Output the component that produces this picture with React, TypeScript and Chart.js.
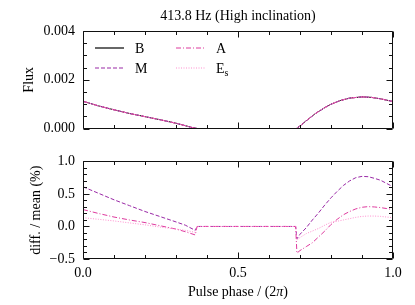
import React, { useEffect, useRef } from "react";
import { Chart, registerables } from "chart.js";

Chart.register(...registerables);

// ---------- data ----------
const TITLE = "413.8 Hz (High inclination)";

// Top panel: flux vs pulse phase (all four models coincide at this scale)
const FLUX_PHASE = [0, 0.05, 0.1, 0.15, 0.2, 0.25, 0.3, 0.33, 0.35, 0.37, 0.688, 0.7, 0.72, 0.75, 0.78, 0.8, 0.83, 0.86, 0.9, 0.93, 0.96, 1.0];
const FLUX_B = [0.00112, 0.00093, 0.00077, 0.00062, 0.00049, 0.00036, 0.00022, 0.00012, 0.00005, 0, 0, 0.00011, 0.00032, 0.00062, 0.00086, 0.001, 0.00115, 0.00125, 0.0013, 0.00128, 0.00122, 0.00111];
const FLUX_M = FLUX_B;
const FLUX_A = FLUX_B;
const FLUX_ES = FLUX_B;

// Bottom panel: relative difference to mean (%)
const DIFF_PHASE = [0, 0.05, 0.1, 0.15, 0.2, 0.25, 0.3, 0.33, 0.362, 0.368, 0.686, 0.69, 0.7, 0.72, 0.74, 0.76, 0.78, 0.8, 0.82, 0.84, 0.86, 0.88, 0.9, 0.92, 0.94, 0.96, 0.98, 1.0];
const DIFF_M = [0.61, 0.51, 0.41, 0.32, 0.23, 0.15, 0.07, 0.02, -0.06, 0, 0, -0.19, -0.12, -0.02, 0.1, 0.21, 0.33, 0.44, 0.54, 0.63, 0.7, 0.75, 0.77, 0.765, 0.74, 0.71, 0.66, 0.61];
const DIFF_A = [0.26, 0.2, 0.145, 0.1, 0.06, 0.01, -0.04, -0.08, -0.13, 0, 0, -0.41, -0.37, -0.31, -0.25, -0.16, -0.07, 0.03, 0.11, 0.18, 0.23, 0.27, 0.295, 0.305, 0.3, 0.29, 0.275, 0.26];
const DIFF_ES = [0.135, 0.11, 0.085, 0.055, 0.025, -0.01, -0.04, -0.06, -0.09, 0, 0, -0.21, -0.17, -0.11, -0.07, -0.03, 0.02, 0.065, 0.08, 0.1, 0.12, 0.14, 0.155, 0.16, 0.16, 0.155, 0.145, 0.135];

const PHASE_TICKS = [0, 0.5, 1.0];
const FLUX_TICKS = [0, 0.002, 0.004];
const DIFF_TICKS = [-0.5, 0, 0.5, 1.0];

// ---------- styles ----------
const FONT = "'Liberation Serif', 'Times New Roman', serif";
const FS = 14;
const STYLE: Record<string, { color: string; dash: number[]; order: number }> = {
  B: { color: "#000000", dash: [], order: 3 },
  M: { color: "#9a2aa6", dash: [4, 2], order: 2 },
  A: { color: "#de3a9e", dash: [5, 2, 1, 2], order: 1 },
  Es: { color: "#ff8fcf", dash: [1, 1.5], order: 0 },
};

function ds(name: string, xs: number[], ys: number[]) {
  return {
    label: name,
    data: xs.map((x, i) => ({ x, y: ys[i] })),
    borderColor: STYLE[name].color,
    borderDash: STYLE[name].dash,
    order: STYLE[name].order,
    borderWidth: 1,
    pointRadius: 0,
    fill: false,
    tension: 0,
  };
}

const framePlugin = {
  id: "frame",
  afterDatasetsDraw(chart: any, _a: any, opts: any) {
    const { ctx, chartArea: a, scales } = chart;
    const xs = scales.x, ys = scales.y;
    const L = Math.round(a.left) + 0.5, R = Math.round(a.right) - 0.5;
    const T = Math.round(a.top) + 0.5, B = Math.round(a.bottom) - 0.5;
    ctx.save();
    ctx.strokeStyle = "#111";
    ctx.lineWidth = 1;
    ctx.setLineDash([]);
    ctx.beginPath();
    const major = 6, minor = 3.5;
    const isMajor = (v: number, list: number[]) => list.some((m) => Math.abs(m - v) < 1e-9);
    const xMaj = xs.ticks.map((t: any) => t.value);
    for (let v = xs.min; v <= xs.max + 1e-9; v += opts.xStep) {
      const px = Math.round(xs.getPixelForValue(v)) + 0.5;
      const len = isMajor(v, xMaj) ? major : minor;
      ctx.moveTo(px, B); ctx.lineTo(px, B - len);
      ctx.moveTo(px, T); ctx.lineTo(px, T + len);
    }
    const yMaj = ys.ticks.map((t: any) => t.value);
    for (let v = ys.min; v <= ys.max + 1e-12; v += opts.yStep) {
      const py = Math.round(ys.getPixelForValue(v)) + 0.5;
      const len = isMajor(v, yMaj) ? major : minor;
      ctx.moveTo(L, py); ctx.lineTo(L + len, py);
      ctx.moveTo(R, py); ctx.lineTo(R - len, py);
    }
    ctx.rect(L, T, R - L, B - T);
    ctx.stroke();

    ctx.fillStyle = "#000";
    ctx.font = `${FS}px ${FONT}`;
    const cx = (a.left + a.right) / 2;
    if (opts.title) {
      ctx.textAlign = "center";
      ctx.textBaseline = "alphabetic";
      ctx.fillText(opts.title, cx, opts.titleY);
    }
    if (opts.xTitle) {
      const p1 = "Pulse phase / (2";
      const p2 = "\u03c0";
      const p3 = ")";
      ctx.font = `${FS}px ${FONT}`;
      const w1 = ctx.measureText(p1).width;
      const w3 = ctx.measureText(p3).width;
      ctx.font = `italic ${FS}px ${FONT}`;
      const w2 = ctx.measureText(p2).width;
      const x0 = cx - (w1 + w2 + w3) / 2;
      ctx.textAlign = "left";
      ctx.textBaseline = "alphabetic";
      ctx.font = `${FS}px ${FONT}`;
      ctx.fillText(p1, x0, opts.xTitleY);
      ctx.font = `italic ${FS}px ${FONT}`;
      ctx.fillText(p2, x0 + w1, opts.xTitleY);
      ctx.font = `${FS}px ${FONT}`;
      ctx.fillText(p3, x0 + w1 + w2, opts.xTitleY);
    }
    if (opts.legend) {
      const items = chart.data.datasets;
      const cols = [a.left + 12, a.left + 93];
      const rows = [a.top + 17, a.top + 37];
      items.forEach((d: any, i: number) => {
        const col = cols[Math.floor(i / 2)];
        const row = rows[i % 2];
        ctx.beginPath();
        ctx.strokeStyle = d.borderColor;
        ctx.lineWidth = 1.2;
        ctx.setLineDash(d.borderDash || []);
        ctx.moveTo(col, row);
        ctx.lineTo(col + 29, row);
        ctx.stroke();
        ctx.setLineDash([]);
        ctx.fillStyle = "#000";
        ctx.textAlign = "left";
        ctx.textBaseline = "alphabetic";
        ctx.font = `${FS}px ${FONT}`;
        const lx = col + 40, ly = row + 5;
        if (d.label === "Es") {
          ctx.fillText("E", lx, ly);
          const w = ctx.measureText("E").width;
          ctx.font = `${FS - 4}px ${FONT}`;
          ctx.fillText("s", lx + w, ly + 3);
        } else {
          ctx.fillText(d.label, lx, ly);
        }
      });
    }
    ctx.restore();
  },
};

function makeY(min: number, max: number, ticks: number[], fmt: (v: number) => string, title: string, titlePad: number) {
  return {
    type: "linear",
    min,
    max,
    afterBuildTicks: (s: any) => {
      s.ticks = ticks.map((v) => ({ value: v }));
    },
    afterFit: (s: any) => {
      s.width = 83;
    },
    grid: { display: false, drawTicks: false },
    border: { display: false },
    ticks: {
      padding: 8,
      color: "#000",
      font: { family: FONT, size: FS },
      callback: (v: any) => fmt(Number(v)),
    },
    title: {
      display: true,
      text: title,
      color: "#000",
      font: { family: FONT, size: FS },
      padding: { top: titlePad, bottom: 0 },
    },
  };
}

const fmt1 = (v: number) => (Math.abs(v) < 1e-9 ? "0.0" : v.toFixed(1).replace("-", "\u2212"));

export default function App() {
  const topRef = useRef<HTMLCanvasElement>(null);
  const botRef = useRef<HTMLCanvasElement>(null);

  useEffect(() => {
    const top = new Chart(topRef.current as HTMLCanvasElement, {
      type: "line",
      data: {
        datasets: [
          ds("B", FLUX_PHASE, FLUX_B),
          ds("M", FLUX_PHASE, FLUX_M),
          ds("A", FLUX_PHASE, FLUX_A),
          ds("Es", FLUX_PHASE, FLUX_ES),
        ],
      },
      options: {
        responsive: false,
        animation: false,
        devicePixelRatio: 1,
        layout: { padding: { left: 0, right: 22, top: 31, bottom: 15 } },
        plugins: {
          legend: { display: false },
          tooltip: { enabled: false },
          frame: { xStep: 0.1, yStep: 0.0005, title: TITLE, titleY: 20, legend: true },
        } as any,
        scales: {
          x: {
            type: "linear",
            min: 0,
            max: 1,
            display: false,
            afterBuildTicks: (s: any) => {
              s.ticks = PHASE_TICKS.map((v) => ({ value: v }));
            },
          },
          y: makeY(0, 0.004, FLUX_TICKS, (v) => v.toFixed(3), "Flux", 21),
        } as any,
      },
      plugins: [framePlugin],
    });

    const bot = new Chart(botRef.current as HTMLCanvasElement, {
      type: "line",
      data: {
        datasets: [
          ds("M", DIFF_PHASE, DIFF_M),
          ds("A", DIFF_PHASE, DIFF_A),
          ds("Es", DIFF_PHASE, DIFF_ES),
        ],
      },
      options: {
        responsive: false,
        animation: false,
        devicePixelRatio: 1,
        layout: { padding: { left: 0, right: 22, top: 14, bottom: 0 } },
        plugins: {
          legend: { display: false },
          tooltip: { enabled: false },
          frame: { xStep: 0.1, yStep: 0.1, xTitle: true, xTitleY: 151 },
        } as any,
        scales: {
          x: {
            type: "linear",
            min: 0,
            max: 1,
            afterBuildTicks: (s: any) => {
              s.ticks = PHASE_TICKS.map((v) => ({ value: v }));
            },
            afterFit: (s: any) => {
              s.height = 46;
            },
            grid: { display: false, drawTicks: false },
            border: { display: false },
            ticks: {
              padding: 6,
              color: "#000",
              maxRotation: 0,
              autoSkip: false,
              font: { family: FONT, size: FS },
              callback: (v: any) => fmt1(Number(v)),
            },
          },
          y: makeY(-0.5, 1.0, DIFF_TICKS, fmt1, "diff. / mean (%)", 28),
        } as any,
      },
      plugins: [framePlugin],
    });

    return () => {
      top.destroy();
      bot.destroy();
    };
  }, []);

  return (
    <div style={{ position: "absolute", left: 0, top: 0, width: 415, height: 305, background: "#fff" }}>
      <canvas ref={topRef} width={415} height={145} style={{ display: "block", width: 415, height: 145 }} />
      <canvas ref={botRef} width={415} height={160} style={{ display: "block", width: 415, height: 160 }} />
    </div>
  );
}
